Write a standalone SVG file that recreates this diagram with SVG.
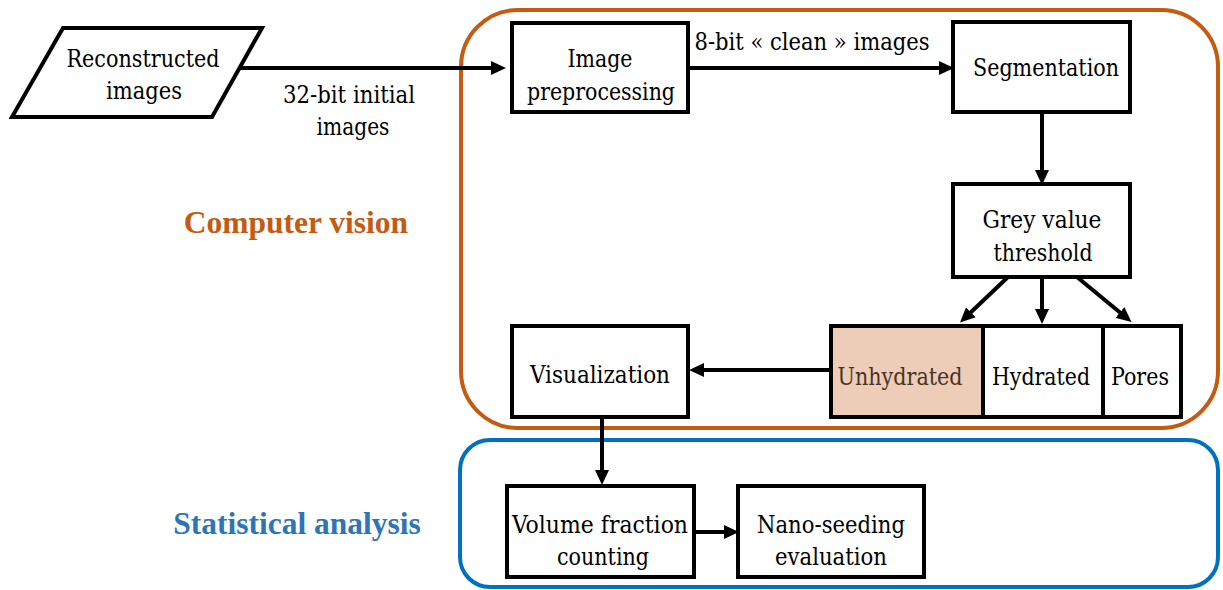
<svg xmlns="http://www.w3.org/2000/svg" width="1223" height="590" viewBox="0 0 1223 590">
<style>
.t{font-family:'DejaVu Serif Condensed','DejaVu Serif','Liberation Serif',serif;font-stretch:condensed;font-size:25px;fill:#000;text-anchor:middle}
.h{font-family:'Liberation Serif',serif;font-size:31.5px;font-weight:bold;text-anchor:middle}
.box{fill:#fff;stroke:#000;stroke-width:4}
.c{stroke:#000;stroke-width:4;fill:none}
</style>
<defs>
<marker id="ah" markerUnits="userSpaceOnUse" markerWidth="16" markerHeight="14" viewBox="0 0 16 14" refX="4" refY="7" orient="auto">
<path d="M0,0 L15,7 L0,14 z" fill="#000"/>
</marker>
</defs>
<rect width="1223" height="590" fill="#fff"/>
<g id="group-computer-vision">
<rect x="461" y="10" width="757" height="418" rx="57" ry="57" fill="none" stroke="#C55A11" stroke-width="4"/>
<text class="h" x="296" y="233" fill="#C55A11">Computer vision</text>
</g>
<g id="group-statistical">
<rect x="460" y="440" width="758" height="147" rx="30" ry="30" fill="none" stroke="#0070C0" stroke-width="4"/>
<text class="h" x="297" y="534" fill="#2E75B6">Statistical analysis</text>
</g>
<g id="connectors">
<line class="c" x1="240" y1="68" x2="495" y2="68" marker-end="url(#ah)"/>
<line class="c" x1="688" y1="68" x2="943" y2="68" marker-end="url(#ah)"/>
<line class="c" x1="1042" y1="112" x2="1042" y2="174" marker-end="url(#ah)"/>
<line class="c" x1="1008" y1="277" x2="968" y2="315" marker-end="url(#ah)"/>
<line class="c" x1="1042" y1="277" x2="1042" y2="313" marker-end="url(#ah)"/>
<line class="c" x1="1077" y1="277" x2="1123" y2="315" marker-end="url(#ah)"/>
<line class="c" x1="831" y1="370" x2="700" y2="370" marker-end="url(#ah)"/>
<line class="c" x1="602" y1="417" x2="602" y2="474" marker-end="url(#ah)"/>
<line class="c" x1="694" y1="532" x2="728" y2="532" marker-end="url(#ah)"/>
<text class="t" x="349" y="103" textLength="132" lengthAdjust="spacingAndGlyphs">32-bit initial</text>
<text class="t" x="353" y="135" textLength="73" lengthAdjust="spacingAndGlyphs">images</text>
<text class="t" x="812" y="50" textLength="235" lengthAdjust="spacingAndGlyphs">8-bit « clean » images</text>
</g>
<g id="reconstructed">
<polygon class="box" points="63,28 262,28 212,117 12,117"/>
<text class="t" x="143" y="67" textLength="153" lengthAdjust="spacingAndGlyphs">Reconstructed</text>
<text class="t" x="144" y="99" textLength="76" lengthAdjust="spacingAndGlyphs">images</text>
</g>
<g id="preprocessing">
<rect class="box" x="512" y="23" width="176" height="89"/>
<text class="t" x="600" y="67" textLength="65" lengthAdjust="spacingAndGlyphs">Image</text>
<text class="t" x="601" y="100" textLength="148" lengthAdjust="spacingAndGlyphs">preprocessing</text>
</g>
<g id="segmentation">
<rect class="box" x="953" y="22" width="177" height="90"/>
<text class="t" x="1046" y="76" textLength="146" lengthAdjust="spacingAndGlyphs">Segmentation</text>
</g>
<g id="threshold">
<rect class="box" x="953" y="184" width="177" height="93"/>
<text class="t" x="1042" y="228" textLength="119" lengthAdjust="spacingAndGlyphs">Grey value</text>
<text class="t" x="1043" y="261" textLength="99" lengthAdjust="spacingAndGlyphs">threshold</text>
</g>
<g id="unhydrated">
<rect x="831" y="326" width="152" height="91" fill="#EDCDB7" stroke="#000" stroke-width="4"/>
<text class="t" x="900" y="385" style="fill:#4A3426" textLength="125" lengthAdjust="spacingAndGlyphs">Unhydrated</text>
</g>
<g id="hydrated">
<rect class="box" x="983" y="326" width="120" height="91"/>
<text class="t" x="1041" y="385" textLength="98" lengthAdjust="spacingAndGlyphs">Hydrated</text>
</g>
<g id="pores">
<rect class="box" x="1103" y="326" width="78" height="91"/>
<text class="t" x="1140" y="385" textLength="58" lengthAdjust="spacingAndGlyphs">Pores</text>
</g>
<g id="visualization">
<rect class="box" x="512" y="326" width="176" height="91"/>
<text class="t" x="600" y="383" textLength="140" lengthAdjust="spacingAndGlyphs">Visualization</text>
</g>
<g id="volume-fraction">
<rect class="box" x="507" y="486" width="187" height="91"/>
<text class="t" x="600" y="533" textLength="176" lengthAdjust="spacingAndGlyphs">Volume fraction</text>
<text class="t" x="603" y="565" textLength="92" lengthAdjust="spacingAndGlyphs">counting</text>
</g>
<g id="nano-seeding">
<rect class="box" x="738" y="486" width="186" height="91"/>
<text class="t" x="831" y="533" textLength="148" lengthAdjust="spacingAndGlyphs">Nano-seeding</text>
<text class="t" x="831" y="565" textLength="112" lengthAdjust="spacingAndGlyphs">evaluation</text>
</g>
</svg>
